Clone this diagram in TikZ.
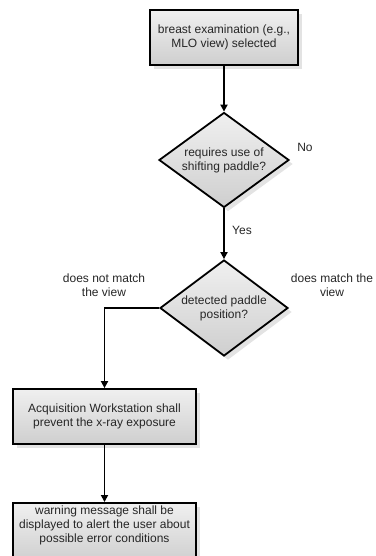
\documentclass[tikz,border=0pt]{standalone}
\usepackage{fontspec}
\setmainfont{Liberation Sans}
\usetikzlibrary{shapes.geometric,arrows.meta,shadows}
\tikzset{
  base/.style={draw=black, line width=1.8pt, top color=gray!12, bottom color=gray!38,
    text=black!85, align=center, inner sep=0pt,
    font=\fontsize{12}{14}\selectfont,
    drop shadow={shadow xshift=4pt, shadow yshift=-4pt, opacity=0.22, fill=gray}},
  procbox/.style={base, rectangle},
  decision/.style={base, diamond, aspect=1.37},
  conn/.style={line width=1.7pt, -{Triangle[width=7pt,length=7pt]}},
  lbl/.style={text=black!85, align=center, font=\fontsize{12}{14}\selectfont}
}
\begin{document}
\begin{tikzpicture}[x=1pt,y=-1pt]
\useasboundingbox (0,0) rectangle (375,556);
\node[procbox, minimum width=148pt, minimum height=55pt] (b1) at (224,37.5)
  {breast examination (e.g.,\\MLO view) selected};
\node[decision, minimum width=130pt, minimum height=95pt] (d1) at (224,160)
  {requires use of\\shifting paddle?};
\node[decision, minimum width=128pt, minimum height=96pt] (d2) at (224,308)
  {detected paddle\\position?};
\node[procbox, minimum width=183pt, minimum height=55pt] (b3) at (104.5,416.5)
  {Acquisition Workstation shall\\prevent the x-ray exposure};
\node[procbox, minimum width=183pt, minimum height=60pt, anchor=north] (b4) at (104.5,502)
  {warning message shall be\\displayed to alert the user about\\possible error conditions\\[4pt]};
\node[lbl] (no) at (305,147) {No};
\node[lbl] (yes) at (242,230) {Yes};
\node[lbl] (nm) at (104,285) {does not match\\the view};
\node[lbl] (dm) at (332,285) {does match the\\view};
\draw[conn] (b1) -- (d1);
\draw[conn] (d1) -- (d2);
\draw[conn] (d2.west) -| (b3.north);
\draw[conn] (b3) -- (b4);
\end{tikzpicture}
\end{document}
